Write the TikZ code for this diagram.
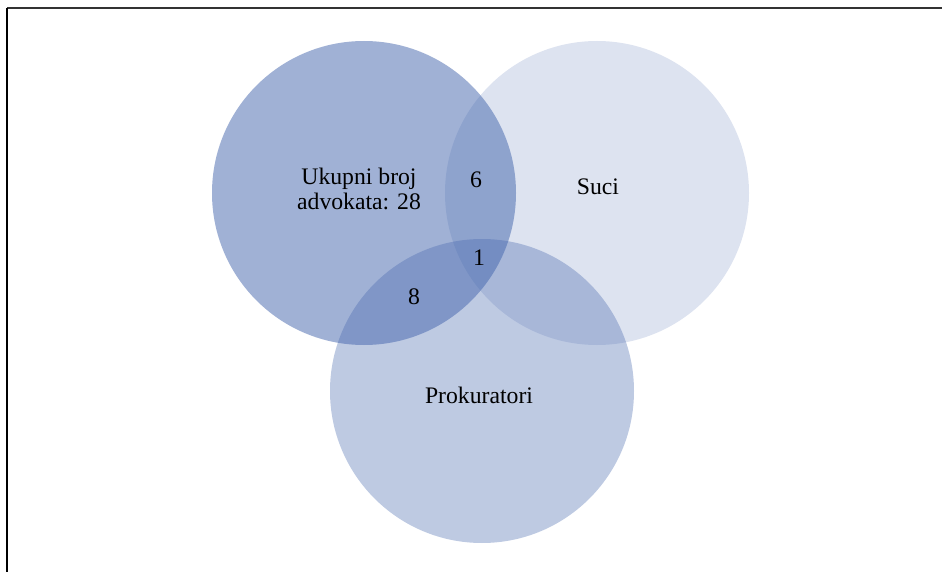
\documentclass[tikz,border=0pt]{standalone}
\usepackage{fontspec}
\setmainfont{Liberation Serif}
\definecolor{vennblue}{RGB}{65,99,171}
\begin{document}
\begin{tikzpicture}[x=1pt,y=-1pt,
  venn/.style={circle,minimum size=304pt,inner sep=0pt,fill=vennblue},
  lbl/.style={font=\fontsize{23.7}{25}\selectfont,align=center,text=black}]
\useasboundingbox (0,0) rectangle (943,572);
\draw[line width=1.3pt,black!80] (7,8) -- (942,8);
\draw[line width=1.2pt,black] (7,8) -- (7,572);
\node[venn,fill opacity=0.5] (adv) at (364,193) {};
\node[venn,fill opacity=0.18] (suci) at (597,193) {};
\node[venn,fill opacity=0.34] (prok) at (482,391) {};
\node[lbl] (tadv) at (359,189) {Ukupni broj\\advokata: 28};
\node[lbl] (t6) at (476,180) {6};
\node[lbl] (tsuci) at (598,187) {Suci};
\node[lbl] (t1) at (479,258) {1};
\node[lbl] (t8) at (414,297) {8};
\node[lbl] (tprok) at (479,395) {Prokuratori};
\end{tikzpicture}
\end{document}
